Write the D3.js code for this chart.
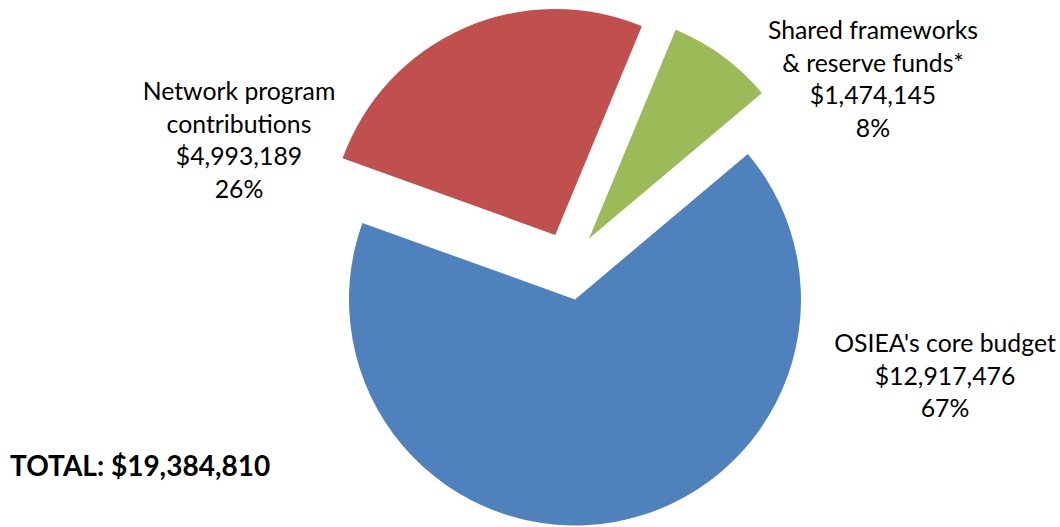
<!DOCTYPE html>
<html>
<head>
<meta charset="utf-8">
<script src="https://cdn.jsdelivr.net/npm/d3@7"></script>
<style>
  body { margin: 0; background: #fff; }
  svg text { font-family: Lato, "Open Sans", sans-serif; fill: #000; }
</style>
</head>
<body>
<svg width="1060" height="527"></svg>
<script>
// data
const categories = ["OSIEA's core budget", "Network program contributions", "Shared frameworks & reserve funds*"];
const values = [12917476, 4993189, 1474145];
const labelLines = [["OSIEA's core budget"], ["Network program", "contributions"], ["Shared frameworks", "& reserve funds*"]];
const colors = ["#4F81BD", "#C0504D", "#9BBB59"];
const totalLabel = "TOTAL: ";

const svg = d3.select("svg");
const cx = 569, cy = 266, radius = 226, explode = 34;
const fontSize = 24.8, lineH = 32.5;

const total = d3.sum(values);
const fmtMoney = v => "$" + d3.format(",")(v);
const fmtPct = d3.format(".0%");

const start = 49.9 * Math.PI / 180;
const pie = d3.pie().sort(null).value(d => d)
    .startAngle(start).endAngle(start + 2 * Math.PI);
const arcs = pie(values);

const arc = d3.arc().innerRadius(0).outerRadius(radius);

const g = svg.append("g").attr("transform", `translate(${cx},${cy})`);

// slices, all pulled out a bit along their middle angle
g.selectAll("path")
    .data(arcs)
    .enter().append("path")
    .attr("d", arc)
    .attr("fill", (d, i) => colors[i])
    .attr("transform", d => {
        const mid = (d.startAngle + d.endAngle) / 2;
        return `translate(${Math.sin(mid) * explode},${-Math.cos(mid) * explode})`;
    });

// label anchors (centre x, first baseline)
const labelPos = [[945, 352], [239, 100], [873, 39]];

arcs.forEach((d, i) => {
    const lines = labelLines[i].concat([fmtMoney(values[i]), fmtPct(values[i] / total)]);
    const t = svg.append("text")
        .attr("text-anchor", "middle")
        .attr("font-size", fontSize + "px");
    lines.forEach((s, j) => {
        t.append("tspan")
            .attr("x", labelPos[i][0])
            .attr("y", labelPos[i][1] + j * lineH)
            .text(s);
    });
});

svg.append("text")
    .attr("x", 10)
    .attr("y", 476)
    .attr("font-size", "28px")
    .attr("font-weight", "bold")
    .text(totalLabel + fmtMoney(total));
</script>
</body>
</html>
